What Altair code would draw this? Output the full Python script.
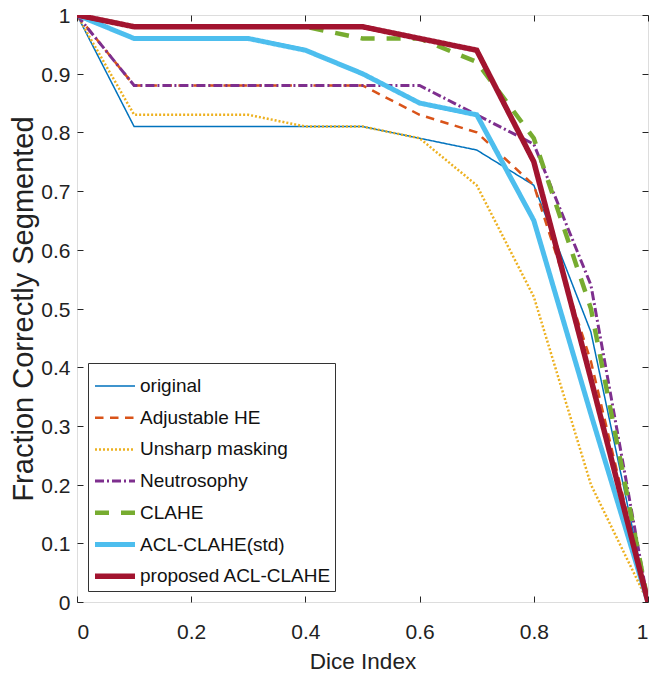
import altair as alt
import pandas as pd

dice_index = [0, 0.1, 0.2, 0.3, 0.4, 0.5, 0.6, 0.7, 0.8, 0.9, 1.0]

series_names = [
    "original",
    "Adjustable HE",
    "Unsharp masking",
    "Neutrosophy",
    "CLAHE",
    "ACL-CLAHE(std)",
    "proposed ACL-CLAHE",
]

original = [1, 0.81, 0.81, 0.81, 0.81, 0.81, 0.79, 0.77, 0.71, 0.46, 0]
adjustable_he = [1, 0.88, 0.88, 0.88, 0.88, 0.88, 0.83, 0.80, 0.71, 0.41, 0]
unsharp_masking = [1, 0.83, 0.83, 0.83, 0.81, 0.81, 0.79, 0.71, 0.52, 0.20, 0]
neutrosophy = [1, 0.88, 0.88, 0.88, 0.88, 0.88, 0.88, 0.83, 0.78, 0.54, 0]
clahe = [1, 0.98, 0.98, 0.98, 0.98, 0.96, 0.96, 0.92, 0.79, 0.50, 0]
acl_clahe_std = [1, 0.96, 0.96, 0.96, 0.94, 0.90, 0.85, 0.83, 0.65, 0.32, 0]
proposed_acl_clahe = [1, 0.98, 0.98, 0.98, 0.98, 0.98, 0.96, 0.94, 0.75, 0.38, 0]

all_series = [original, adjustable_he, unsharp_masking, neutrosophy,
              clahe, acl_clahe_std, proposed_acl_clahe]

colors = ["#0072BD", "#D95319", "#EDB120", "#7E2F8E", "#77AC30", "#4DBEEE", "#A2142F"]
dashes = [[1, 0], [8.5, 6.5], [2, 2], [9, 3, 2, 3], [14, 12], [1, 0], [1, 0]]
widths = [1.5, 2.5, 2.5, 3, 4.5, 5, 5.5]

rows = []
for si, (name, vals) in enumerate(zip(series_names, all_series)):
    for x, y in zip(dice_index, vals):
        rows.append({"Dice Index": x, "Fraction": y, "Method": name,
                     "lw": widths[si]})
df = pd.DataFrame(rows)

FONT = "Liberation Sans Narrow, Arial Narrow, Liberation Sans, Arial, sans-serif"
TICK_COL = "#262626"

x_scale = alt.Scale(domain=[0, 1], nice=False, zero=False)
y_scale = alt.Scale(domain=[0, 1], nice=False, zero=False)

legend_common = dict(orient="none", legendX=11, legendY=348)

# legend symbol width per entry, taken from the same widths list
width_chain = " : ".join(
    f"datum.value == '{n}' ? {w}" for n, w in zip(series_names, widths)
) + " : 2"
width_expr = f"0 ? 40 : ({width_chain})"

lines = alt.Chart(df).mark_line(strokeJoin="miter", clip=True).encode(
    x=alt.X("Dice Index:Q", scale=x_scale,
            axis=alt.Axis(orient="bottom", values=[0, 0.2, 0.4, 0.6, 0.8, 1.0],
                          format="~g", offset=-6, tickSize=6, domain=False,
                          grid=False, labelPadding=19, labelFont=FONT,
                          labelFontSize=21, labelColor="#222",
                          tickColor=TICK_COL, title="Dice Index",
                          titleFont=FONT, titleFontSize=22.5,
                          titleFontWeight="normal", titleColor="#222",
                          titlePadding=8)),
    y=alt.Y("Fraction:Q", scale=y_scale,
            axis=alt.Axis(orient="left",
                          values=[0, 0.1, 0.2, 0.3, 0.4, 0.5, 0.6, 0.7, 0.8, 0.9, 1.0],
                          format="~g", offset=-6, tickSize=6, domain=False,
                          grid=False, labelPadding=7, labelFont=FONT,
                          labelFontSize=21, labelColor="#222", labelOffset=1.5,
                          tickColor=TICK_COL,
                          title="Fraction Correctly Segmented",
                          titleFont="Liberation Sans, Arial, sans-serif",
                          titleFontSize=29, titleFontWeight="normal",
                          titleColor="#222", titlePadding=2)),
    color=alt.Color("Method:N", scale=alt.Scale(domain=series_names, range=colors),
                    legend=alt.Legend(title=None, symbolType="stroke",
                                      symbolSize=1600, labelFont=FONT,
                                      labelFontSize=19, labelColor="#111",
                                      strokeColor="#333", fillColor="white",
                                      padding=3, symbolOffset=4, rowPadding=1.7,
                                      labelOffset=5, labelLimit=400,
                                      symbolStrokeWidth=alt.ExprRef(width_expr),
                                      **legend_common)),
    strokeDash=alt.StrokeDash("Method:N",
                              scale=alt.Scale(domain=series_names, range=dashes),
                              legend=alt.Legend(**legend_common)),
    strokeWidth=alt.StrokeWidth("lw:Q", scale=None, legend=None),
    order=alt.Order("Dice Index:Q"),
)

frame = alt.Chart(df).mark_line(opacity=0).encode(
    x=alt.X("Dice Index:Q", scale=x_scale,
            axis=alt.Axis(orient="top", values=[0, 0.2, 0.4, 0.6, 0.8, 1.0],
                          offset=-6, tickSize=6, domain=False, labels=False,
                          grid=False, tickColor=TICK_COL, title=None)),
    y=alt.Y("Fraction:Q", scale=y_scale,
            axis=alt.Axis(orient="right",
                          values=[0, 0.1, 0.2, 0.3, 0.4, 0.5, 0.6, 0.7, 0.8, 0.9, 1.0],
                          offset=-6, tickSize=6, domain=False, labels=False,
                          grid=False, tickColor=TICK_COL, title=None)),
    detail="Method:N",
)

chart = alt.layer(lines, frame).resolve_axis(
    x="independent", y="independent"
).properties(
    width=571,
    height=587,
    autosize=alt.AutoSizeParams(type="none"),
    padding={"left": 69, "top": 7, "right": 1, "bottom": 72},
).configure_view(
    stroke="#555", strokeWidth=1.2
).configure(background="white")

chart.save("out.html", embed_options={"renderer": "svg", "actions": False})
